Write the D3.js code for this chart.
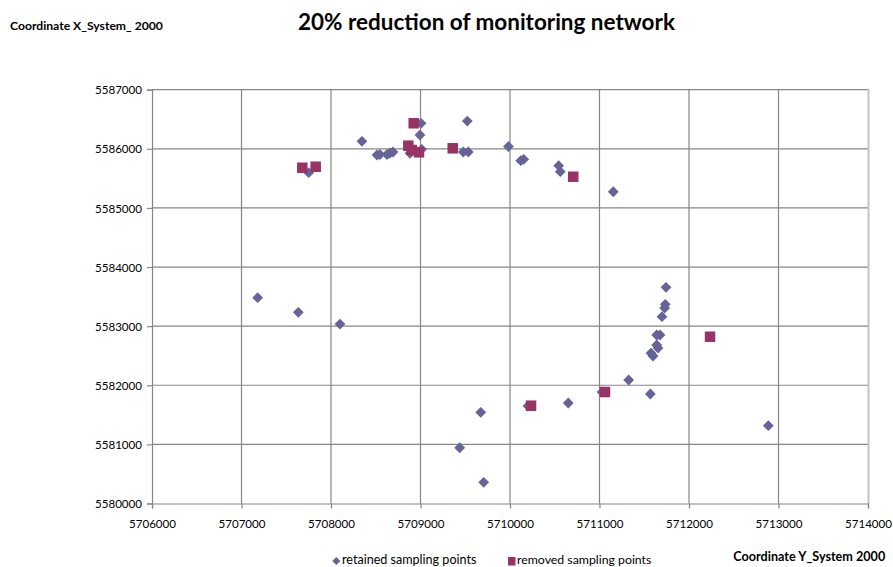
<!DOCTYPE html>
<html>
<head>
<meta charset="utf-8">
<script src="https://cdn.jsdelivr.net/npm/d3@7"></script>
<style>
html,body{margin:0;padding:0;background:#fff;}
svg{display:block;}
text{font-family:Lato,"Open Sans",sans-serif;}
</style>
</head>
<body>
<svg id="chart" width="893" height="567"></svg>
<script>
// ---- data ----
const titleText = "20% reduction of monitoring network";
const xAxisTitle = "Coordinate Y_System 2000";
const yAxisTitle = "Coordinate X_System_ 2000";
const seriesNames = ["retained sampling points", "removed sampling points"];
const xTicks = [5706000, 5707000, 5708000, 5709000, 5710000, 5711000, 5712000, 5713000, 5714000];
const yTicks = [5580000, 5581000, 5582000, 5583000, 5584000, 5585000, 5586000, 5587000];

const retainedX = [5707181, 5707635, 5708100, 5707751, 5708346, 5708514, 5708547, 5708626, 5708659, 5708693,
  5708883, 5709006, 5708994, 5709013, 5709523, 5709478, 5709534, 5709983, 5710120, 5710153,
  5710544, 5710562, 5711154, 5711743, 5711735, 5711728, 5711698, 5711639, 5711676, 5711639,
  5711654, 5711575, 5711598, 5711326, 5711568, 5711028, 5710651, 5710201, 5709673, 5709438,
  5709706, 5712886];
const retainedY = [5583481, 5583234, 5583036, 5585596, 5586127, 5585895, 5585904, 5585904, 5585929, 5585946,
  5585924, 5586432, 5586234, 5585992, 5586470, 5585946, 5585946, 5586039, 5585799, 5585823,
  5585714, 5585613, 5585274, 5583657, 5583369, 5583307, 5583160, 5582850, 5582850, 5582681,
  5582630, 5582545, 5582495, 5582089, 5581852, 5581886, 5581700, 5581649, 5581542, 5580943,
  5580358, 5581316];

const removedX = [5707679, 5707829, 5708924, 5708864, 5708902, 5708983, 5709360, 5710707, 5710235, 5711061, 5712235];
const removedY = [5585680, 5585697, 5586432, 5586053, 5585980, 5585941, 5586009, 5585528, 5581654, 5581886, 5582821];

// ---- layout ----
const svg = d3.select("#chart");
const L = 152, R = 868, T = 89.7, B = 503.5;
const x = d3.scaleLinear().domain([5706000, 5714000]).range([L, R]);
const y = d3.scaleLinear().domain([5580000, 5587000]).range([B, T]);
const gridColor = "#868686";
const retainedColor = "#646499";
const removedColor = "#993366";

function fitText(sel, target) {
  const fs = parseFloat(sel.attr("font-size"));
  const w = sel.node().getComputedTextLength();
  if (w > 0) sel.attr("font-size", (fs * target / w).toFixed(2));
  return sel;
}

// gridlines
svg.append("g").selectAll("line").data(xTicks.slice(1, -1)).join("line")
  .attr("x1", d => x(d)).attr("x2", d => x(d)).attr("y1", T).attr("y2", B)
  .attr("stroke", gridColor).attr("stroke-width", 1.2);
svg.append("g").selectAll("line").data(yTicks.slice(1)).join("line")
  .attr("x1", L).attr("x2", R).attr("y1", d => y(d)).attr("y2", d => y(d))
  .attr("stroke", gridColor).attr("stroke-width", 1.2);
// right border
svg.append("line").attr("x1", R + 0.5).attr("x2", R + 0.5).attr("y1", T - 1).attr("y2", B + 1)
  .attr("stroke", "#c4c4c4").attr("stroke-width", 2);

// axes
const xAxis = d3.axisBottom(x).tickValues(xTicks).tickSize(5).tickFormat(d3.format("d"));
const yAxis = d3.axisLeft(y).tickValues(yTicks).tickSize(5).tickFormat(d3.format("d"));
const gx = svg.append("g").attr("transform", `translate(0,${B})`).call(xAxis);
const gy = svg.append("g").attr("transform", `translate(${L},0)`).call(yAxis);
[gx, gy].forEach(g => {
  g.select(".domain").attr("stroke", gridColor).attr("stroke-width", 1.2);
  g.selectAll(".tick line").attr("stroke", gridColor).attr("stroke-width", 1.2);
  g.selectAll(".tick text").attr("fill", "#000").attr("font-family", "Lato, sans-serif").attr("font-size", 12);
});
// fit tick font size
const probe = svg.append("text").attr("font-size", 12).text("5587000");
fitText(probe, 47);
const tickFs = probe.attr("font-size");
probe.remove();
gx.selectAll(".tick text").attr("font-size", tickFs).attr("dy", null).attr("y", 24);
gy.selectAll(".tick text").attr("font-size", tickFs).attr("x", -10).attr("dy", "0.36em");

// markers
const diamond = r => `M0,${-r}L${r},0L0,${r}L${-r},0Z`;
svg.append("g").selectAll("path").data(d3.range(retainedX.length)).join("path")
  .attr("d", diamond(5.4))
  .attr("transform", i => `translate(${x(retainedX[i])},${y(retainedY[i])})`)
  .attr("fill", retainedColor);
const sq = 10.5;
svg.append("g").selectAll("rect").data(d3.range(removedX.length)).join("rect")
  .attr("x", i => x(removedX[i]) - sq / 2).attr("y", i => y(removedY[i]) - sq / 2)
  .attr("width", sq).attr("height", sq)
  .attr("fill", removedColor);

// title
const t = svg.append("text").attr("x", 486.5).attr("y", 30).attr("text-anchor", "middle")
  .attr("font-weight", "bold").attr("font-size", 19).text(titleText);
fitText(t, 377);

// axis titles
const yt = svg.append("text").attr("x", 10).attr("y", 29.5)
  .attr("font-weight", "bold").attr("font-size", 11).text(yAxisTitle);
fitText(yt, 153);
const xt = svg.append("text").attr("x", 733.3).attr("y", 561)
  .attr("font-weight", "bold").attr("font-size", 12).text(xAxisTitle);
fitText(xt, 152);

// legend
svg.append("path").attr("d", diamond(4)).attr("transform", "translate(336.3,561)").attr("fill", retainedColor);
const l1 = svg.append("text").attr("x", 342).attr("y", 564).attr("font-size", 12).text(seriesNames[0]);
fitText(l1, 134.5);
svg.append("rect").attr("x", 508).attr("y", 557).attr("width", 7.5).attr("height", 8.5).attr("fill", removedColor);
const l2 = svg.append("text").attr("x", 517).attr("y", 564).attr("font-size", 12).text(seriesNames[1]);
fitText(l2, 134.5);
</script>
</body>
</html>
